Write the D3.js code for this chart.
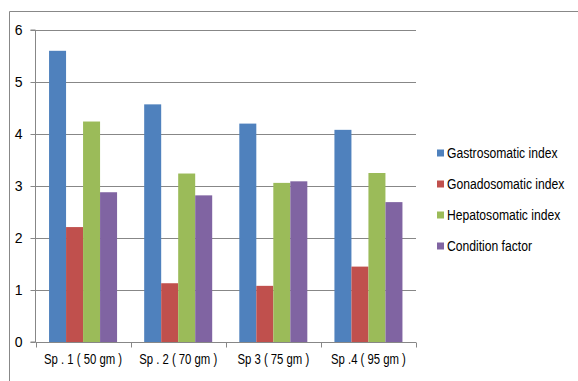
<!DOCTYPE html>
<html><head><meta charset="utf-8">
<script src="https://cdn.jsdelivr.net/npm/d3@7/dist/d3.min.js"></script>
<style>
body{margin:0;background:#fff;}
text{font-family:"Liberation Sans",sans-serif;fill:#000;}
</style></head>
<body><svg id="c" width="578" height="381"></svg>
<script>
const categories = ["Sp . 1 ( 50 gm )", "Sp . 2 ( 70 gm )", "Sp 3 ( 75 gm )", "Sp .4 ( 95 gm )"];
const seriesNames = ["Gastrosomatic index", "Gonadosomatic index", "Hepatosomatic index", "Condition factor"];
const gastrosomatic = [5.6, 4.57, 4.2, 4.08];
const gonadosomatic = [2.21, 1.13, 1.08, 1.45];
const hepatosomatic = [4.24, 3.24, 3.06, 3.25];
const conditionFactor = [2.88, 2.82, 3.09, 2.69];
const colors = ["#4F81BD", "#C0504D", "#9BBB59", "#8064A2"];
const yTicks = [0, 1, 2, 3, 4, 5, 6];

const series = [gastrosomatic, gonadosomatic, hepatosomatic, conditionFactor];
const svg = d3.select("#c");
const condense = 0.81;

// outer frame
svg.append("path").attr("d", "M9.5,381 V11.5 H578").attr("fill","none").attr("stroke","#888").attr("stroke-width",1);

const x0 = d3.scaleBand().domain(categories).range([35.5, 416]).paddingInner(0.285).paddingOuter(0.1425);
const x1 = d3.scaleBand().domain(d3.range(4)).range([0, x0.bandwidth()]);
const y = d3.scaleLinear().domain([0, 6]).range([342, 30]);

// gridlines
svg.append("g").selectAll("line").data(yTicks.filter(d=>d>0)).join("line")
  .attr("x1", 35.5).attr("x2", 416).attr("y1", d=>Math.round(y(d))+0.5).attr("y2", d=>Math.round(y(d))+0.5)
  .attr("stroke", "#878787").attr("stroke-width", 1);

// bars
const g = svg.append("g");
categories.forEach((c, ci) => {
  series.forEach((s, si) => {
    g.append("rect")
      .attr("x", x0(c) + x1(si)).attr("width", x1.bandwidth())
      .attr("y", y(s[ci])).attr("height", y(0) - y(s[ci]))
      .attr("fill", colors[si]);
  });
});

// y axis
const ya = svg.append("g").attr("transform", "translate(35.5,0)")
  .call(d3.axisLeft(y).tickValues(yTicks).tickSize(5).tickPadding(8).tickFormat(d3.format("d")));
ya.select(".domain").attr("stroke", "#878787").attr("d", `M-5,${y(6)}H0V${y(0)}H-5`);
ya.selectAll(".tick line").attr("stroke", "#878787");
ya.selectAll(".tick text").attr("font-size", 14).attr("font-family", null);

// x axis
const xa = svg.append("g").attr("transform", `translate(0,${y(0)+0.5})`)
  .call(d3.axisBottom(x0).tickSize(0).tickPadding(12));
xa.selectAll(".tick text").attr("font-size", 14).attr("font-family", null)
  .attr("transform", `scale(${condense},1)`);
const edges = [35.5].concat(categories.map(c => x0(c) + x0.bandwidth() + x0.step()*x0.paddingInner()/2));
xa.selectAll(".edge").data(edges).join("line").attr("class","edge")
  .attr("x1", d=>Math.round(d)+0.5).attr("x2", d=>Math.round(d)+0.5).attr("y1", 0).attr("y2", 5)
  .attr("stroke", "#878787");
xa.select(".domain").attr("stroke", "#878787").attr("d", `M35.5,0H416`);

// legend
const lg = svg.append("g");
seriesNames.forEach((n, i) => {
  const yy = 153 + i * 31;
  lg.append("rect").attr("x", 437).attr("y", yy - 3.5).attr("width", 7).attr("height", 7).attr("fill", colors[i]);
  lg.append("g").attr("transform", `translate(447,${yy}) scale(${condense},1)`)
    .append("text").attr("x", 0).attr("y", 0).attr("dy", "0.36em").attr("font-size", 15).text(n);
});
</script></body></html>
